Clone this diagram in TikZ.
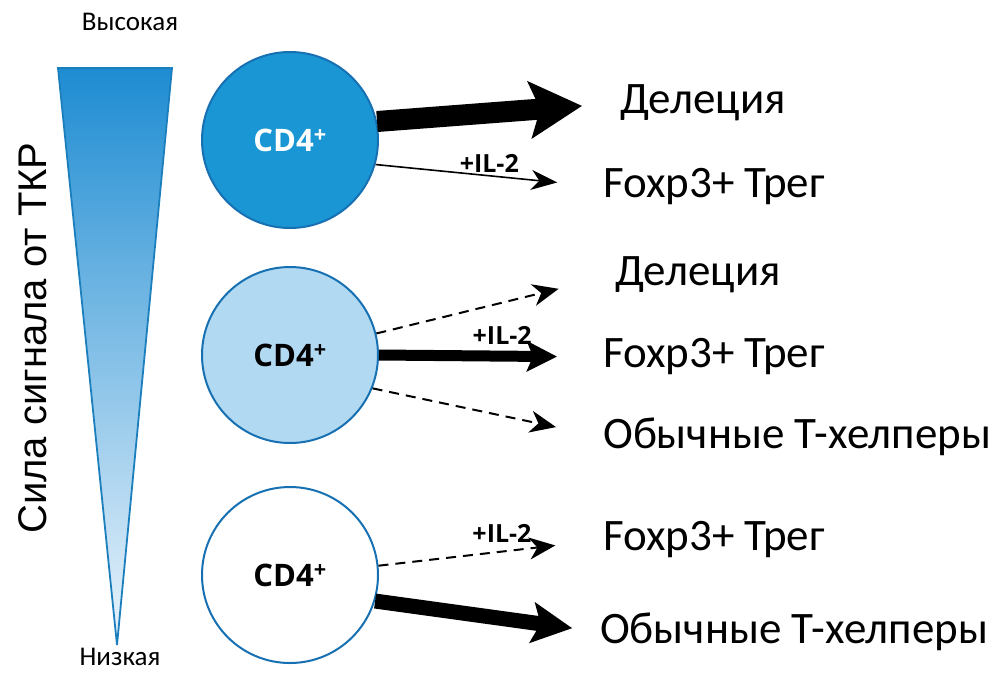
\documentclass[tikz,border=0pt]{standalone}
\usepackage{fontspec}
\setmainfont{Carlito}
\newfontfamily\armfont{Liberation Sans}
\newfontfamily\cellfont{Open Sans}
\usetikzlibrary{arrows.meta}

\definecolor{cellblue}{RGB}{27,150,212}
\definecolor{celllight}{RGB}{178,217,242}
\definecolor{cellline}{RGB}{22,112,178}
\definecolor{trtop}{RGB}{30,140,210}
\definecolor{trbot}{RGB}{235,244,252}

\newcommand{\cdfour}{CD4\textsuperscript{+}}

\begin{document}
\begin{tikzpicture}[x=1pt,y=-1pt]
    \tikzset{
        cell/.style={draw=cellline, line width=2pt, circle, minimum size=176pt,
            font=\cellfont\fontsize{31}{34}\selectfont\bfseries},
        fate/.style={anchor=west, font=\fontsize{45}{50}\selectfont, inner sep=0pt},
        level/.style={font=\fontsize{27}{30}\selectfont, inner sep=0pt},
        il/.style={font=\cellfont\fontsize{25}{27}\selectfont\bfseries, inner sep=2pt},
        weak/.style={line width=2pt, dash pattern=on 10pt off 7pt,
            -{Stealth[length=26pt,width=22pt,inset=8pt]}},
        thin/.style={line width=1.6pt, -{Stealth[length=26pt,width=20pt,inset=8pt]}}
    }
    \useasboundingbox (0,0) rectangle (992,673);

    % signal strength wedge
    \coordinate (tl) at (58,68);
    \coordinate (tr) at (172,68);
    \coordinate (tip) at (117,645);
    \shade[top color=trtop, bottom color=trbot] (tl) -- (tr) -- (tip) -- cycle;
    \draw[draw=trtop!90!black, line width=1.8pt, line join=miter] (tl) -- (tr) -- (tip) -- cycle;
    \node[level] (high) at (130,22) {Высокая};
    \node[level] (low) at (120,657) {Низкая};
    \node[rotate=90, font=\armfont\fontsize{40}{42}\selectfont] (axis) at (33,338) {Сила сигнала от ТКР};

    % cells
    \node[cell, fill=cellblue, text=white] (c1) at (290,140) {\cdfour};
    \node[cell, fill=celllight] (c2) at (290,355) {\cdfour};
    \node[cell, fill=white] (c3) at (290,575) {\cdfour};

    % outcomes
    \node[fate] (del1) at (620,103) {Делеция};
    \node[fate] (treg1) at (603,187) {Foxp3+ Трег};
    \node[fate] (del2) at (615,275) {Делеция};
    \node[fate] (treg2) at (603,357) {Foxp3+ Трег};
    \node[fate] (conv2) at (603,437) {Обычные Т-хелперы};
    \node[fate] (treg3) at (603,540) {Foxp3+ Трег};
    \node[fate] (conv3) at (600,632) {Обычные Т-хелперы};

    % strong cell
    \draw[line width=21pt, -{Stealth[length=52pt,width=56pt,inset=10pt]}, shorten >=38pt]
        (c1.12) -- (del1.west);
    \draw[thin, shorten >=46pt] (c1.-16) -- node[il, above, pos=0.5] {+IL-2} (treg1.west);

    % intermediate cell
    \draw[weak, shorten >=58pt] (c2.14) -- (del2.west);
    \draw[line width=11pt, -{Stealth[length=30pt,width=30pt,inset=6pt]}, shorten >=46pt]
        (c2.east) -- node[il, above=4pt, pos=0.55] {+IL-2} (treg2.west);
    \draw[weak, shorten >=48pt] (c2.-22) -- (conv2.west);

    % weak cell
    \draw[weak, shorten >=48pt] (c3.6) -- node[il, above=6pt, pos=0.55] {+IL-2} (treg3.west);
    \draw[line width=15pt, -{Stealth[length=40pt,width=40pt,inset=8pt]}, shorten >=28pt]
        (c3.-17) -- (conv3.west);
\end{tikzpicture}
\end{document}
